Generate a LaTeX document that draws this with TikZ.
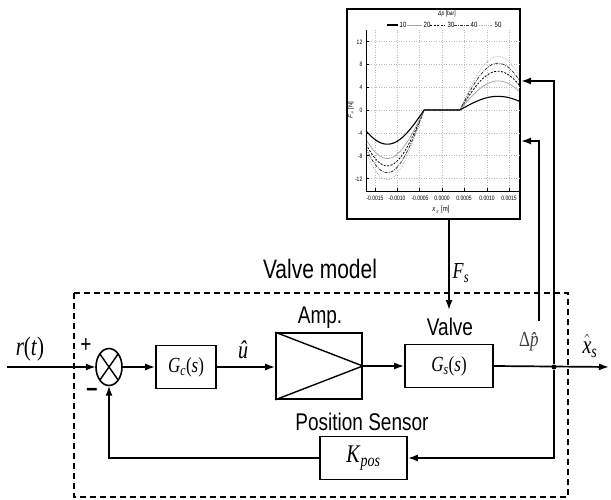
\documentclass[tikz,border=0pt]{standalone}
\usepackage{fontspec}
\usepackage{amsmath}
\usepackage{graphicx}
\setmainfont{Liberation Serif}
\newfontfamily\arialf{Liberation Sans}
\usetikzlibrary{arrows.meta,shapes.geometric}
\newcommand\vst[1]{\scalebox{1}[1.27]{#1}}
\newcommand\fsz[1]{\fontsize{#1}{#1}\selectfont}
\newcommand\fcurve[3]{\draw[#1] plot[domain=-16.96:-4,samples=60] (\x,{-#2*sin((-1*(\x)-4)*10.98)}) -- (4,0) -- plot[domain=4:17.2,samples=60] (\x,{#3*sin(((\x)-4)*10.59)});}
\tikzset{
  sig/.style={-{Latex[length=10pt,width=7pt]}, line width=1.7},
  blk/.style={draw, line width=1.6, inner sep=0pt},
  sanslbl/.style={font=\arialf\fsz{19}},
  gridl/.style={gray!55, line width=0.4, dash pattern=on 1pt off 1.5pt},
  c10/.style={black, line width=1.1},
  c20/.style={gray!70, line width=0.8},
  c30/.style={black, line width=0.8, dash pattern=on 2pt off 1.5pt},
  c40/.style={black!80, line width=0.8, dash pattern=on 3pt off 1.2pt on 0.8pt off 1.2pt},
  c50/.style={gray!60, line width=0.7, dash pattern=on 0.8pt off 1pt},
  tick/.style={font=\arialf\fsz{5}},
}
\begin{document}
\begin{tikzpicture}[x=1pt,y=-1pt]
\useasboundingbox (0,0) rectangle (611,500);
% ---------- plot ----------
\node[draw, line width=2.2, minimum width=173, minimum height=210, inner sep=0pt] (plot) at (433.5,114) {};
\begin{scope}[shift={(442,110)}, x=4.48pt, y=5.7pt]
  \foreach \X in {-15,-10,...,15} \draw[gridl] (\X,-14.2) -- (\X,14);
  \foreach \F in {-12,-8,...,12} \draw[gridl] (-16.96,\F) -- (17.2,\F);
  \fcurve{c50}{12.2}{9.4}
  \fcurve{c40}{11.0}{8.2}
  \fcurve{c30}{9.8}{6.8}
  \fcurve{c20}{8.5}{5.1}
  \fcurve{c10}{6.0}{2.4}
  \draw[line width=0.8] (-16.96,14) -- (-16.96,-14.2) -- (17.2,-14.2);
  \foreach \F in {-12,-8,...,12} \draw[line width=0.5] (-16.96,\F) -- ++(0.7,0);
  \foreach \X in {-15,-10,...,15} \draw[line width=0.5] (\X,-14.2) -- ++(0,0.5);
\end{scope}
\foreach \y/\t in {42/12,64/8,87/4,110/0,133/-4,156/-8,179/-12}
  \node[tick, anchor=east, inner sep=0.5pt] (yl\t) at (363,\y) {\vst{\t}};
\foreach \x/\t in {375/-0.0015,397/-0.0010,420/-0.0005,442/0.0000,464/0.0005,487/0.0010,509/0.0015}
  \node[tick, inner sep=0.5pt] (xl\x) at (\x,198) {\vst{\t}};
\node[font=\arialf\fsz{6}, rotate=90, inner sep=0pt] (ylab) at (351,110) {\textit{F}$_{s}$ [N]};
\node[font=\arialf\fsz{6}, inner sep=0pt] (xlab) at (441,210) {\vst{\textit{x}$_{s}$ [m]}};
\node[font=\arialf\fsz{5}, inner sep=0pt] (legt) at (447,14) {\vst{\textit{Δp} [bar]}};
\draw[c10] (387,25) -- (398,25); \node[tick, font=\arialf\fsz{6}, inner sep=0pt] (l10) at (403,25) {\vst{10}};
\draw[c20] (407,25) -- (422,25); \node[tick, font=\arialf\fsz{6}, inner sep=0pt] (l20) at (427,25) {\vst{20}};
\draw[c30] (430,25) -- (445,25); \node[tick, font=\arialf\fsz{6}, inner sep=0pt] (l30) at (451,25) {\vst{30}};
\draw[c40] (454,25) -- (469,25); \node[tick, font=\arialf\fsz{6}, inner sep=0pt] (l40) at (474,25) {\vst{40}};
\draw[c50] (477,25) -- (492,25); \node[tick, font=\arialf\fsz{6}, inner sep=0pt] (l50) at (498,25) {\vst{50}};
% ---------- block diagram ----------
\draw[line width=1.4, dash pattern=on 6pt off 4pt] (74,293) rectangle (568,497);
\node[font=\arialf\fsz{21}] (vm) at (320,269) {\vst{Valve model}};
\coordinate (in) at (7,367);
\node[inner sep=0pt, minimum width=26, minimum height=37] (sum) at (109,367) {};
\draw[line width=1.6] (sum.center) ellipse [x radius=13, y radius=18.5];
\draw[line width=1.4] ([shift={(-9.2,-13.1)}]sum.center) -- ([shift={(9.2,13.1)}]sum.center)
                      ([shift={(9.2,-13.1)}]sum.center) -- ([shift={(-9.2,13.1)}]sum.center);
\node[font=\arialf\fsz{19}] (plus) at (86,346) {\vst{+}};
\node[font=\arialf\bfseries\fsz{20}] (minus) at (92,392) {\vst{–}};
\node[font=\fsz{21}] (rt) at (30,349) {\vst{\textit{r}(\textit{t})}};
\node[blk, minimum width=60, minimum height=43] (gc) at (186,367) {\fsz{17}\vst{\textit{G}$_{\textit{c}}$(\textit{s})}};
\node[font=\fsz{20}] (uhat) at (243,350) {\vst{\textit{\^u}}};
\node[blk, minimum width=86, minimum height=66] (amp) at (319,366) {};
\draw[line width=1.4] (amp.north west) -- (amp.east) -- (amp.south west);
\node[sanslbl] (ampl) at (320,318) {\vst{Amp.}};
\node[blk, minimum width=88, minimum height=43] (gs) at (449,366) {\fsz{17}\vst{\textit{G}$_{\textit{s}}$(\textit{s})}};
\node[sanslbl] (valvel) at (450,327) {\vst{Valve}};
\node[blk, minimum width=87, minimum height=43] (kpos) at (363.5,458) {\fsz{20}\vst{\textit{K}$_{\textit{pos}}$}};
\node[sanslbl] (psl) at (362,422) {\vst{Position Sensor}};
\node[circle, fill, inner sep=0pt, minimum size=5] (junc) at (554,367) {};
\coordinate (out) at (609,367);
\node[font=\fsz{18}] (fsl) at (461,273) {\vst{\textit{F}$_{\textit{s}}$}};
\node[font=\fsz{17}, text=black!75] (dpl) at (532,342) {\vst{Δ\textit{\^p}}};
\node[font=\fsz{20}] (xsl) at (590,346) {\vst{$\hat{\textit{x}}_{\textit{s}}$}};
\coordinate (fsend) at (449,310);
\coordinate (dpstart) at (539,321);
\coordinate (pin1) at (520,81);
\coordinate (pin2) at (520,141);
% connectors
\draw[sig] (in) -- (sum.west);
\draw[sig] (sum.east) -- (gc.west);
\draw[sig] (gc.east) -- (amp.west |- gc.east);
\draw[sig] (amp.east) -- (gs.west);
\draw[sig] (gs.east) -- (out);
\draw[sig] (junc) |- (kpos.east);
\draw[sig] (kpos.west) -| (sum.south);
\draw[sig] (plot.south -| fsend) -- (fsend);
\draw[sig, shorten >=1pt] (junc) |- (pin1);
\draw[sig, shorten >=1pt] (dpstart) |- (pin2);
\end{tikzpicture}
\end{document}
